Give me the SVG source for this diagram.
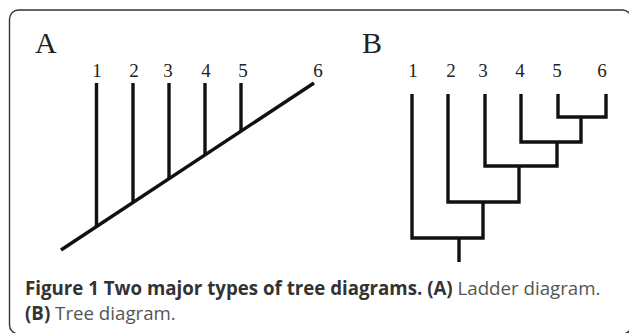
<svg xmlns="http://www.w3.org/2000/svg" width="629" height="333" viewBox="0 0 629 333">
<style>
.frame{fill:none;stroke:#333;stroke-width:1.4}
.br{fill:none;stroke:#111;stroke-width:3.4;stroke-linecap:butt;stroke-linejoin:miter}
.lbl{font-family:"Liberation Serif","Times New Roman",serif;font-size:19px;fill:#222;text-anchor:middle}
.panel{font-family:"Liberation Serif","Times New Roman",serif;font-size:30px;fill:#222}
.cap{font-family:"Open Sans","Noto Sans","Liberation Sans",sans-serif;font-size:18.7px;fill:#555}
.b{font-weight:bold;fill:#333}
</style>
<rect class="frame" x="9.5" y="10" width="622" height="324" rx="9"/>
<g id="panelA">
<text class="panel" x="35" y="53">A</text>
<g id="A-labels">
<text class="lbl" x="97" y="77">1</text>
<text class="lbl" x="134" y="77">2</text>
<text class="lbl" x="168" y="77">3</text>
<text class="lbl" x="206" y="77">4</text>
<text class="lbl" x="243" y="77">5</text>
<text class="lbl" x="318" y="77">6</text>
</g>
<g id="A-lines">
<line class="br" x1="61" y1="250" x2="314" y2="83"/>
<line class="br" x1="96.5" y1="83" x2="96.5" y2="227"/>
<line class="br" x1="133" y1="83" x2="133" y2="203"/>
<line class="br" x1="169" y1="83" x2="169" y2="179"/>
<line class="br" x1="205" y1="83" x2="205" y2="155"/>
<line class="br" x1="241" y1="83" x2="241" y2="131"/>
</g>
</g>
<g id="panelB">
<text class="panel" x="362" y="53">B</text>
<g id="B-labels">
<text class="lbl" x="413" y="77">1</text>
<text class="lbl" x="451" y="77">2</text>
<text class="lbl" x="483" y="77">3</text>
<text class="lbl" x="520" y="77">4</text>
<text class="lbl" x="557" y="77">5</text>
<text class="lbl" x="602" y="77">6</text>
</g>
<g id="B-lines">
<polyline class="br" points="558,94 558,117 606,117 606,94"/>
<polyline class="br" points="521,94 521,142 581,142 581,117"/>
<polyline class="br" points="485,94 485,166 557,166 557,142"/>
<polyline class="br" points="448,94 448,202 519,202 519,166"/>
<polyline class="br" points="412,94 412,238 483,238 483,202"/>
<line class="br" x1="459" y1="238" x2="459" y2="262"/>
</g>
</g>
<g id="caption">
<text class="cap" x="25" y="295"><tspan class="b">Figure 1 Two major types of tree diagrams. (A)</tspan> Ladder diagram.</text>
<text class="cap" x="25" y="320"><tspan class="b">(B)</tspan> Tree diagram.</text>
</g>
</svg>
